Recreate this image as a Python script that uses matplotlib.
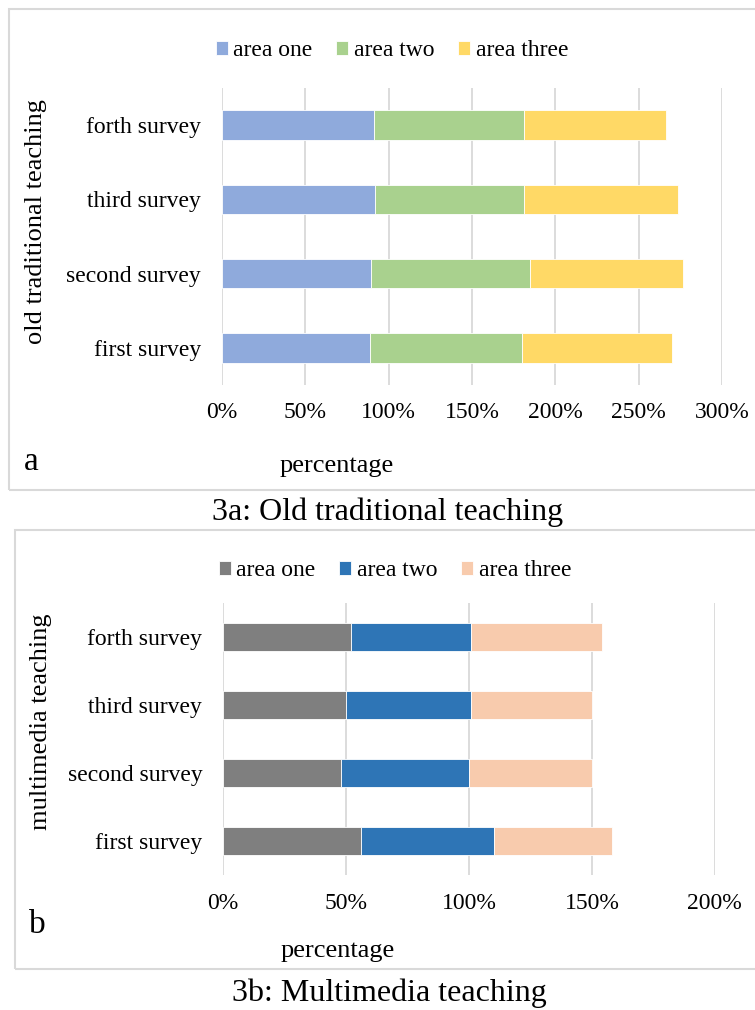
import numpy as np
import matplotlib
matplotlib.use("Agg")
import matplotlib.pyplot as plt
from matplotlib.patches import Rectangle

plt.rcParams['font.family'] = ['Liberation Serif', 'DejaVu Serif']

# survey data (percent)
surveys = ["first survey", "second survey", "third survey", "forth survey"]
areas = ["area one", "area two", "area three"]

# 3a: old traditional teaching
old_one = [89, 89.5, 92, 91]
old_two = [91, 95.5, 89, 90]
old_three = [90, 91.5, 92.5, 85.5]

# 3b: multimedia teaching
mm_one = [56, 48, 50, 52]
mm_two = [54, 52, 51, 49]
mm_three = [48, 50, 49, 53]

old_colors = ["#8FAADC", "#A9D18E", "#FFD966"]
mm_colors = ["#7F7F7F", "#2E75B6", "#F8CBAD"]

W, H = 755, 1010
fig = plt.figure(figsize=(W / 100, H / 100), dpi=100)

def px(x0, y0, x1, y1):
    # pixel box -> figure fraction [left, bottom, width, height]
    return [x0 / W, 1 - y1 / H, (x1 - x0) / W, (y1 - y0) / H]

grid_c = "#D9D9D9"

def draw_panel(rect, series, colors, xmax, ylab, ylab_xy, leg_xy, pad_x):
    ax = fig.add_axes(rect)
    y = np.arange(len(surveys))
    left = np.zeros(len(surveys))
    handles = []
    for vals, col, name in zip(series, colors, areas):
        b = ax.barh(y, vals, left=left, height=0.4, color=col,
                    edgecolor="white", linewidth=0.6, label=name, zorder=3)
        handles.append(b)
        left = left + np.array(vals)
    ax.set_xlim(0, xmax)
    ax.set_ylim(-0.5, len(surveys) - 0.5)
    ax.set_xticks(np.arange(0, xmax + 1, 50))
    ax.set_xticklabels([f"{v}%" for v in range(0, xmax + 1, 50)])
    ax.set_yticks(y)
    ax.set_yticklabels(surveys)
    ax.grid(axis="x", color=grid_c, linewidth=1.3, zorder=0)
    for s in ["top", "right", "bottom", "left"]:
        ax.spines[s].set_visible(False)
    ax.tick_params(axis="both", length=0, labelsize=17, colors="black")
    ax.tick_params(axis="x", pad=pad_x)
    ax.tick_params(axis="y", pad=15)
    fig.text(ylab_xy[0] / W, 1 - ylab_xy[1] / H, ylab, rotation=90,
             ha="center", va="center", fontsize=19)
    fig.legend(handles=handles, loc="center",
               bbox_to_anchor=(leg_xy[0] / W, 1 - leg_xy[1] / H),
               ncol=3, frameon=False, fontsize=17, handlelength=0.5,
               handleheight=0.5, handletextpad=0.25, columnspacing=1.0)
    return ax

# panel boxes
fig.patches.append(Rectangle((9 / W, 1 - 490 / H), 760 / W, 481 / H,
                             transform=fig.transFigure, fill=False,
                             edgecolor=grid_c, linewidth=1.5))
fig.patches.append(Rectangle((15 / W, 1 - 969 / H), 760 / W, 439 / H,
                             transform=fig.transFigure, fill=False,
                             edgecolor=grid_c, linewidth=1.5))

draw_panel(px(221.7, 88, 722.3, 385), [old_one, old_two, old_three],
           old_colors, 300, "old traditional teaching", (36, 222), (392, 51), 12)
draw_panel(px(223.1, 603, 714.8, 875), [mm_one, mm_two, mm_three],
           mm_colors, 200, "multimedia teaching", (41, 722), (395, 571), 13)

fig.text(337 / W, 1 - 466 / H, "percentage", ha="center", va="center", fontsize=19)
fig.text(338 / W, 1 - 951 / H, "percentage", ha="center", va="center", fontsize=19)
fig.text(31 / W, 1 - 462 / H, "a", ha="center", va="center", fontsize=24)
fig.text(37 / W, 1 - 925 / H, "b", ha="center", va="center", fontsize=24)
fig.text(388 / W, 1 - 512 / H, "3a: Old traditional teaching", ha="center",
         va="center", fontsize=23)
fig.text(389 / W, 1 - 993 / H, "3b: Multimedia teaching", ha="center",
         va="center", fontsize=23)

fig.savefig("out.png", dpi=100)
